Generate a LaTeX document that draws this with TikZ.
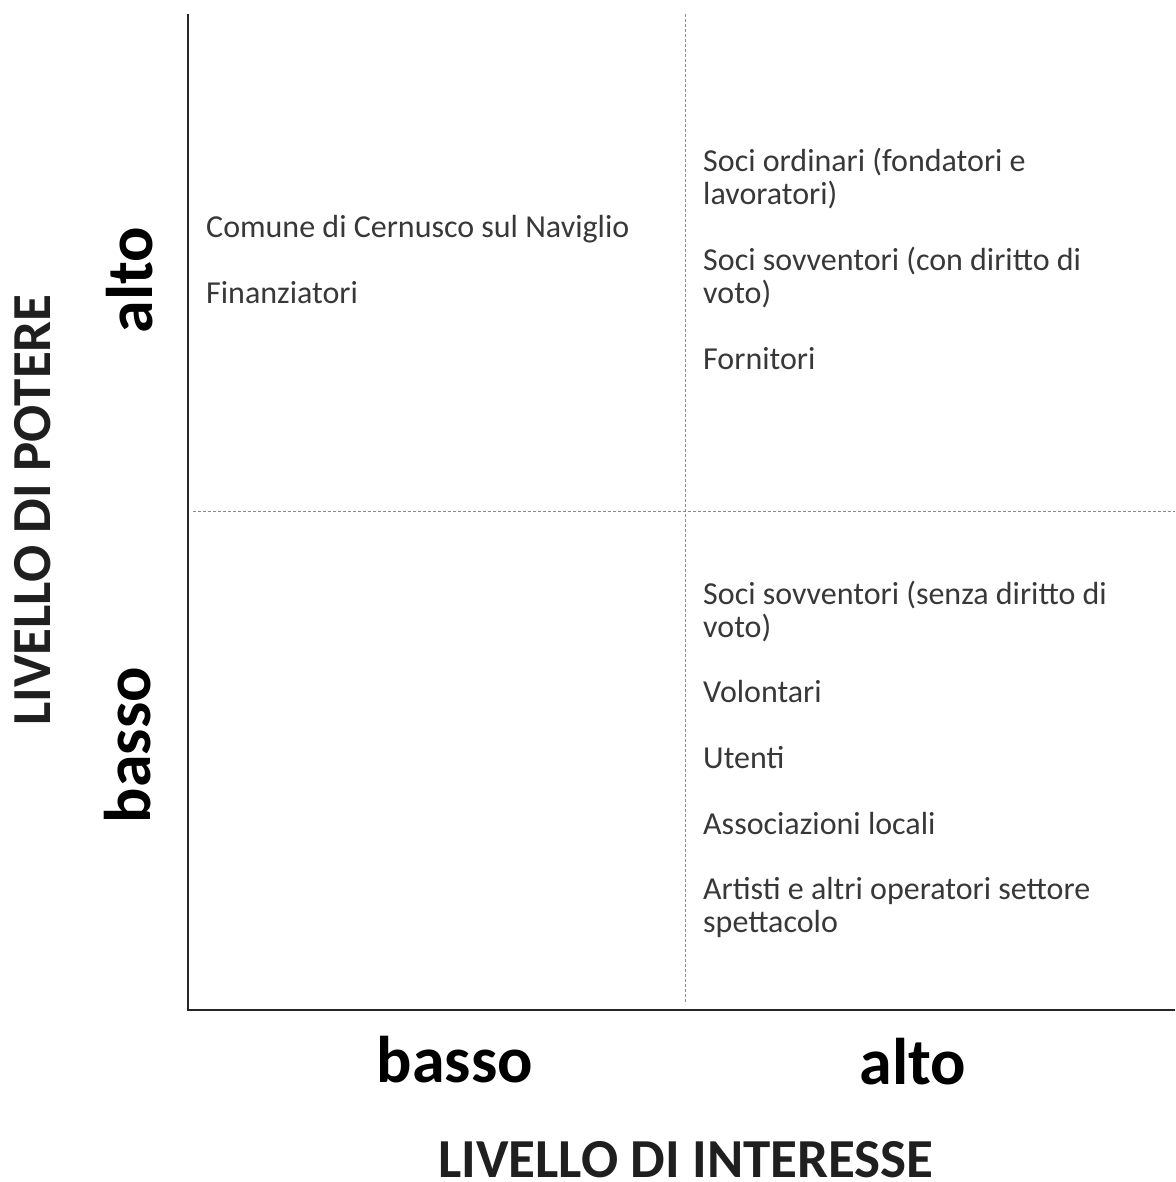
\documentclass[tikz,border=0pt]{standalone}
\usepackage{fontspec}
\setmainfont{Carlito}
\newfontfamily\handfont{Carlito}
\begin{document}
\begin{tikzpicture}[x=1pt,y=-1pt,
  item/.style={anchor=base west,inner sep=0pt,align=left,text=black!78,font=\fontsize{32}{33}\selectfont},
  hand/.style={inner sep=0pt,font=\handfont\bfseries\fontsize{66}{66}\selectfont},
  axtitle/.style={inner sep=0pt,anchor=base,font=\bfseries\fontsize{55}{55}\selectfont,text=black!88},
  axis/.style={line width=2.2pt,black!85},
  grid/.style={line width=1pt,black!45,dash pattern=on 3pt off 2pt}]
\useasboundingbox (0,0) rectangle (1175,1182);
% axes
\coordinate (top) at (188,14);
\coordinate (org) at (188,1010);
\coordinate (rt) at (1175,1010);
\draw[axis] (top) -- (org) -- (rt);
% quadrant separators
\coordinate (vt) at (685,14);
\coordinate (vb) at (685,1003);
\coordinate (hl) at (193,511);
\coordinate (hr) at (1175,511);
\draw[grid] (vt) -- (vb);
\draw[grid] (hl) -- (hr);
% top-left
\node[item] (comune) at (206,237) {Comune di Cernusco sul Naviglio};
\node[item] (fin) at (206,303) {Finanziatori};
% top-right (multi-line nodes: base = last line)
\node[item] (ordinari) at (703,205) {Soci ordinari (fondatori e\\lavoratori)};
\node[item] (sovvcon) at (703,303) {Soci sovventori (con diritto di\\voto)};
\node[item] (forn) at (703,369) {Fornitori};
% bottom-right
\node[item] (sovvsenza) at (703,637) {Soci sovventori (senza diritto di\\voto)};
\node[item] (vol) at (703,702) {Volontari};
\node[item] (ute) at (703,768) {Utenti};
\node[item] (assoc) at (703,834) {Associazioni locali};
\node[item] (artisti) at (703,932) {Artisti e altri operatori settore\\spettacolo};
% axis level labels
\node[hand] (xbasso) at (455,1060) {basso};
\node[hand] (xalto) at (913,1062) {alto};
\node[hand,rotate=90] (yalto) at (130,280) {alto};
\node[hand,rotate=90] (ybasso) at (128,745) {basso};
% axis titles
\node[axtitle] (xtitle) at (686,1177) {LIVELLO DI INTERESSE};
\node[axtitle,anchor=center,rotate=90] (ytitle) at (33,510) {LIVELLO DI POTERE};
\end{tikzpicture}
\end{document}
